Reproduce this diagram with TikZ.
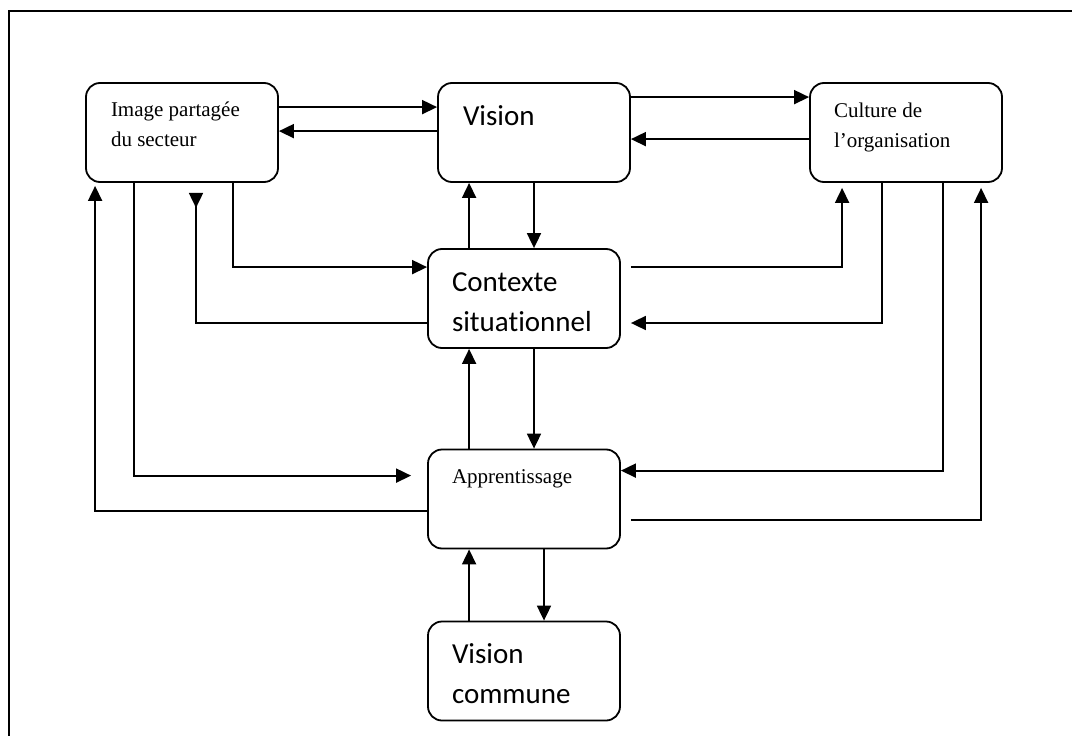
\documentclass[tikz,border=0pt]{standalone}
\usepackage{fontspec}
\setmainfont{Liberation Serif}
\newfontfamily\calibri[Ligatures=NoCommon]{Carlito}
\usetikzlibrary{arrows.meta}

\begin{document}
\begin{tikzpicture}[x=1pt, y=-1pt, line width=1.8pt,
  box/.style={draw, rounded corners=14pt, minimum width=192pt, minimum height=99pt, inner sep=0pt},
  serif/.style={anchor=west, inner sep=0pt, align=left, font=\fontsize{21}{30}\selectfont},
  sans/.style={anchor=west, inner sep=0pt, align=left, font=\calibri\fontsize{29}{40}\selectfont},
  arr/.style={-{Triangle[length=15pt, width=14pt]}},
  rarr/.style={-{Triangle[length=15pt, width=14pt, reversed]}}]
\useasboundingbox (0,0) rectangle (1072,736);
\draw[line width=1.2pt] (9,736) -- (9,11) -- (1072,11);
\node[box] (img) at (182, 132.5) {};
\node[box] (vis) at (534, 132.5) {};
\node[box] (cul) at (906, 132.5) {};
\node[box] (ctx) at (524, 298.5) {};
\node[box] (app) at (524, 499) {};
\node[box] (vc) at (524, 671) {};
\node[serif] (imgt) at ([shift={(25pt,-42pt)}]img.north west) {Image partagée\\du secteur};
\node[sans] (vist) at ([shift={(25pt,-34pt)}]vis.north west) {Vision};
\node[serif] (cult) at ([shift={(24pt,-45pt)}]cul.north west) {Culture de\\l’organisation};
\node[sans] (ctxt) at ([shift={(24pt,-54pt)}]ctx.north west) {Contexte\\situationnel};
\node[serif] (appt) at ([shift={(24pt,-30pt)}]app.north west) {Apprentissage};
\node[sans] (vct) at ([shift={(24pt,-53pt)}]vc.north west) {Vision\\commune};
\draw[arr] ([yshift=-25pt]img.north east) -- ([yshift=-25pt]vis.north west);
\draw[arr] ([yshift=-49pt]vis.north west) -- ([yshift=-49pt]img.north east);
\draw[arr] ([yshift=-15pt]vis.north east) -- ([yshift=-15pt]cul.north west);
\draw[arr] ([yshift=-57pt]cul.north west) -- ([yshift=-57pt]vis.north east);
\draw[arr] ([xshift=42pt]ctx.north west) -- ([xshift=32pt]vis.south west);
\draw[arr] (vis.south) -- ([xshift=10pt]ctx.north);
\draw[arr] ([xshift=42pt]app.north west) -- ([xshift=42pt]ctx.south west);
\draw[arr] ([xshift=10pt]ctx.south) -- ([xshift=10pt]app.north);
\draw[arr] ([xshift=42pt]vc.north west) -- ([xshift=42pt]app.south west);
\draw[arr] ([xshift=20pt]app.south) -- ([xshift=20pt]vc.north);
\draw[arr] ([xshift=51pt]img.south) |- ([yshift=-19pt]ctx.north west);
\draw[rarr] ([yshift=-24.5pt]ctx.west) -| ([shift={(14pt,-10pt)}]img.south);
\draw[arr] ([shift={(10pt,-19pt)}]ctx.north east) -| ([shift={(33pt,-5pt)}]cul.south west);
\draw[arr] ([xshift=73pt]cul.south west) |- ([shift={(10pt,-24.5pt)}]ctx.east);
\draw[arr] ([xshift=134pt]cul.south west) |- ([yshift=-22pt]app.north east);
\draw[arr] ([shift={(10pt,-71pt)}]app.north east) -| ([shift={(172pt,-5pt)}]cul.south west);
\draw[arr] ([xshift=49pt]img.south west) |- ([shift={(-16pt,-27pt)}]app.north west);
\draw[arr] ([yshift=-62pt]app.north west) -| ([shift={(10pt,-3pt)}]img.south west);
\end{tikzpicture}
\end{document}
